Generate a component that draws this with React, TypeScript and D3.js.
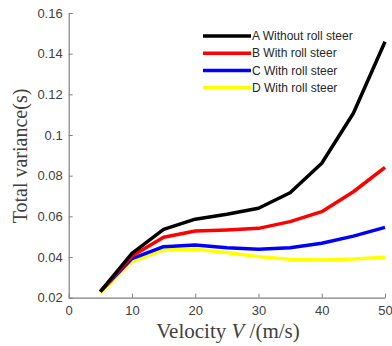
import React, { useEffect, useRef } from 'react'
import * as d3 from 'd3'

const velocity = [5, 10, 15, 20, 25, 30, 35, 40, 45, 50]
const seriesA = [0.023, 0.0418, 0.0536, 0.0586, 0.061, 0.064, 0.0716, 0.0861, 0.1107, 0.1459]
const seriesB = [0.023, 0.0405, 0.0497, 0.0528, 0.0533, 0.0541, 0.0574, 0.0623, 0.0721, 0.0841]
const seriesC = [0.023, 0.0392, 0.0451, 0.0459, 0.0446, 0.0438, 0.0446, 0.0468, 0.0503, 0.0546]
const seriesD = [0.0225, 0.0377, 0.0435, 0.0438, 0.0422, 0.0402, 0.0389, 0.0385, 0.039, 0.0399]
const seriesNames = ['A Without roll steer', 'B With roll steer', 'C With roll steer', 'D With roll steer']
const seriesColors = ['#000000', '#ff0000', '#0000ff', '#ffff00']
const xTicks = [0, 10, 20, 30, 40, 50]
const yTicks = [0.02, 0.04, 0.06, 0.08, 0.1, 0.12, 0.14, 0.16]

function App() {
  const svgRef = useRef<SVGSVGElement>(null)

  useEffect(() => {
    const width = 392
    const height = 346
    const svg = d3.select(svgRef.current)
    svg.selectAll('*').remove()
    svg.attr('width', width).attr('height', height)
      .style('position', 'absolute').style('left', 0).style('top', 0)

    const left = 68.7, right = 385, top = 13, bottom = 297.7
    const x = d3.scaleLinear().domain([0, 50]).range([left, right])
    const y = d3.scaleLinear().domain([0.02, 0.16]).range([bottom, top])
    const axisColor = '#808080'
    const textColor = '#404040'

    // axes (box off, ticks inside)
    const gx = svg.append('g').attr('transform', `translate(0,${bottom})`)
      .call(d3.axisBottom(x).tickValues(xTicks).tickSizeInner(-4).tickSizeOuter(0).tickPadding(8).tickFormat(d3.format('d')))
    const gy = svg.append('g').attr('transform', `translate(${left},0)`)
      .call(d3.axisLeft(y).tickValues(yTicks).tickSizeInner(-4).tickSizeOuter(0).tickPadding(6).tickFormat(d => String(+(+d).toFixed(2))))
    for (const g of [gx, gy]) {
      g.select('.domain').attr('stroke', axisColor).attr('stroke-width', 1.2)
      g.selectAll('line').attr('stroke', axisColor)
      g.selectAll('text').attr('fill', textColor).style('font-family', 'Liberation Sans, Arial, sans-serif').style('font-size', '13px')
    }

    // lines
    const all = [seriesA, seriesB, seriesC, seriesD]
    const line = d3.line<number>().x((_, i) => x(velocity[i])).y(d => y(d))
    for (let k = all.length - 1; k >= 0; k--) {
      svg.append('path')
        .datum(all[k])
        .attr('fill', 'none')
        .attr('stroke', seriesColors[k])
        .attr('stroke-width', 3.5)
        .attr('stroke-linejoin', 'round')
        .attr('d', line)
    }

    // legend
    const lg = svg.append('g')
    seriesNames.forEach((name, i) => {
      const ly = 36 + i * 17.2
      lg.append('line').attr('x1', 203).attr('x2', 251).attr('y1', ly).attr('y2', ly)
        .attr('stroke', seriesColors[i]).attr('stroke-width', 3.5)
      lg.append('text').attr('x', 252).attr('y', ly).attr('dy', '0.35em')
        .attr('fill', '#262626').style('font-family', 'Liberation Sans, Arial, sans-serif').style('font-size', '12px')
        .text(name)
    })

    // axis titles
    const xt = svg.append('text').attr('x', 228).attr('y', 338).attr('text-anchor', 'middle')
      .attr('fill', textColor).style('font-family', 'Liberation Serif, Times New Roman, serif').style('font-size', '21px')
    xt.append('tspan').text('Velocity ')
    xt.append('tspan').style('font-style', 'italic').text('V')
    xt.append('tspan').text(' /(m/s)')

    svg.append('text').attr('transform', `translate(27,156) rotate(-90)`).attr('text-anchor', 'middle')
      .attr('fill', textColor).style('font-family', 'Liberation Serif, Times New Roman, serif').style('font-size', '20px')
      .text('Total variance(s)')
  }, [])

  return <svg ref={svgRef}></svg>
}

export default App
